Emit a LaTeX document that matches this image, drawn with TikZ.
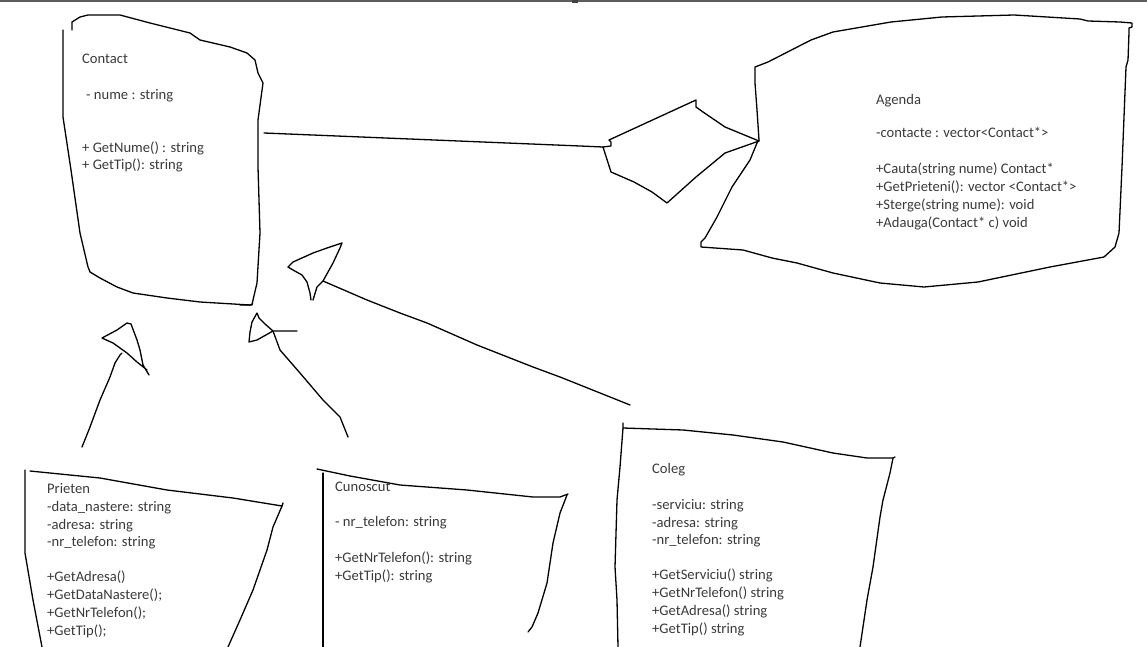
\documentclass[tikz,border=0pt]{standalone}
\usepackage{fontspec}
\setmainfont{Carlito}
\definecolor{txt}{HTML}{3A3A3A}
\definecolor{bar}{HTML}{5E5E5E}
\begin{document}
\begin{tikzpicture}[x=1pt,y=-1pt,
  sketch/.style={draw=black,line width=1.3pt,line join=round,line cap=round},
  cls/.style={anchor=base west,inner sep=0pt,align=left,text=txt,font=\fontsize{14.6}{17.8}\selectfont}]
\useasboundingbox (0,0) rectangle (1147,647);
% top bar
\fill[bar] (0,0) rectangle (1147,1.6);
\fill[bar!70!black] (572,0) rectangle (578,2.6);

% ---------- Contact ----------
\draw[sketch] (63,30) -- (63,117) -- (71,170) -- (80,233) -- (88,267) -- (90,272) -- (100,278) -- (117,287) -- (133,293) -- (167,298) -- (200,302) -- (250,305) -- (252,304);
\draw[sketch] (72,30) -- (72,22) -- (80,17) -- (88,15) -- (120,15) -- (150,23) -- (190,33) -- (200,40) -- (230,47) -- (247,53) -- (255,60) -- (258,73) -- (263,83) -- (258,120) -- (258,167) -- (260,233) -- (257,283) -- (253,300) -- (252,305) -- (240,305);
% (base anchor = baseline of the last line)
\node[cls] (contact) at (82,170) {Contact\\[18pt]\hspace{4pt}- nume : string\\[35pt]+ GetNume() : string\\+ GetTip(): string};

% ---------- Agenda ----------
\draw[sketch] (755,67) -- (768,62) -- (811,40) -- (833,32) -- (891,22) -- (942,17) -- (1014,15) -- (1080,19) -- (1088,21) -- (1120,22) -- (1132,23) -- (1132,27) -- (1129,28) -- (1129,32) -- (1128,60) -- (1126,67) -- (1122,167) -- (1119,233) -- (1115,247) -- (1104,257) -- (1050,267) -- (978,282) -- (924,287) -- (880,283) -- (833,273) -- (797,263) -- (772,258) -- (743,250) -- (701,247) -- (701,242) -- (705,238) -- (717,217) -- (732,187) -- (750,160) -- (757,143) -- (759,140) -- (757,110) -- (755,83) -- cycle;
\node[cls] (agenda) at (876,227) {Agenda\\[16pt]-contacte : vector<Contact*>\\[18pt]+Cauta(string nume) Contact*\\+GetPrieteni(): vector <Contact*>\\+Sterge(string nume): void\\+Adauga(Contact* c) void};

% aggregation Contact -- Agenda
\coordinate (contactE) at (264,133);
\coordinate (diaL) at (603,147);
\coordinate (diaR) at (759,141);
\draw[sketch] (contactE) -- (580,146) -- (diaL);
\draw[sketch] (diaL) -- (611,146) -- (611,142) -- (609,140) -- (696,100) -- (696,107) -- (703,112) -- (725,127) -- (diaR);
\draw[sketch] (diaL) -- (611,172) -- (634,182) -- (652,192) -- (667,203) -- (696,177) -- (725,153) -- (diaR);

% ---------- Prieten ----------
\draw[sketch] (25,470) -- (25,553) -- (33,600) -- (42,647);
\draw[sketch] (30,471) -- (100,478) -- (167,490) -- (233,498) -- (282,506) -- (283,503);
\draw[sketch] (282,506) -- (273,527) -- (267,550) -- (253,590) -- (240,620) -- (228,647);
\node[cls] (prieten) at (47,635) {Prieten\\-data\_nastere: string\\-adresa: string\\-nr\_telefon: string\\[17pt]+GetAdresa()\\+GetDataNastere();\\+GetNrTelefon();\\+GetTip();};

% ---------- Cunoscut ----------
\draw[sketch] (317,469) -- (350,476) -- (400,485) -- (467,490) -- (533,497) -- (560,497) -- (568,494);
\draw[sketch] (323,473) -- (323,647);
\draw[sketch] (567,495) -- (560,513) -- (553,543) -- (547,583) -- (538,613) -- (532,627) -- (528,632);
\node[cls] (cunoscut) at (335,580) {Cunoscut\\[17pt]- nr\_telefon: string\\[18pt]+GetNrTelefon(): string\\+GetTip(): string};

% ---------- Coleg ----------
\draw[sketch] (623,423) -- (623,428) -- (620,467) -- (617,500) -- (615,567) -- (617,600) -- (618,647);
\draw[sketch] (623,428) -- (683,430) -- (733,435) -- (783,442) -- (833,453) -- (867,458) -- (893,458) -- (895,457);
\draw[sketch] (893,458) -- (890,473) -- (883,500) -- (880,517) -- (873,567) -- (867,600) -- (860,647);
\node[cls] (coleg) at (652,633) {Coleg\\[18pt]-serviciu: string\\-adresa: string\\-nr\_telefon: string\\[17pt]+GetServiciu() string\\+GetNrTelefon() string\\+GetAdresa() string\\+GetTip() string};

% ---------- generalisation arrows ----------
% Prieten
\coordinate (prietenT) at (82,447);
\coordinate (arrP) at (122,353);
\draw[sketch] (prietenT) -- (90,427) -- (100,400) -- (110,377) -- (115,363) -- (120,355) -- (arrP);
\draw[sketch] (149,375) -- (143,365) -- (140,350) -- (137,340) -- (131,324) -- (127,323) -- (117,330) -- (102,338) -- (113,343) -- (127,353) -- (137,362) -- (147,370);
% Cunoscut
\coordinate (cunoscutT) at (348,437);
\coordinate (arrC) at (273,331);
\draw[sketch] (cunoscutT) -- (340,417) -- (323,400) -- (300,373) -- (280,350) -- (arrC);
\draw[sketch] (297,331) -- (arrC) -- (265,324) -- (259,318) -- (257,313) -- (252,322) -- (250,332) -- (249,342) -- (257,340) -- (arrC);
% Coleg
\coordinate (colegT) at (630,405);
\coordinate (arrK) at (323,281);
\draw[sketch] (colegT) -- (600,393) -- (560,377) -- (533,367) -- (477,345) -- (427,323) -- (400,313) -- (367,300) -- (arrK);
\draw[sketch] (311,300) -- (310,293) -- (307,282) -- (302,275) -- (293,270) -- (288,267) -- (293,262) -- (313,253) -- (327,248) -- (342,243) -- (340,248) -- (333,263) -- (arrK) -- (317,287) -- (313,300);
\end{tikzpicture}
\end{document}
